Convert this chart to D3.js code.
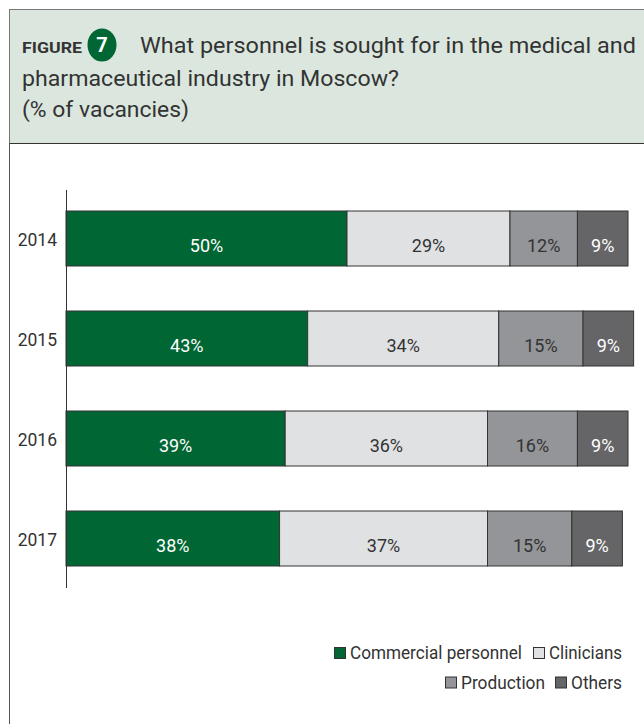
<!DOCTYPE html>
<html><head><meta charset="utf-8">
<script src="https://cdn.jsdelivr.net/npm/d3@7"></script>
<style>body{margin:0;background:#fff;font-family:Roboto,sans-serif;}</style>
</head><body>
<svg id="c" width="644" height="724"></svg>
<script>
const years = ["2014","2015","2016","2017"];
const seriesNames = ["Commercial personnel","Clinicians","Production","Others"];
const commercial = [50,43,39,38];
const clinicians = [29,34,36,37];
const production = [12,15,16,15];
const others = [9,9,9,9];
const seriesValues = [commercial, clinicians, production, others];
const colors = ["#006633","#e0e1e3","#939598","#656567"];
const labelColors = ["#ffffff","#333333","#333333","#ffffff"];

const svg = d3.select("#c");
const font = "Roboto, sans-serif";
const W = 400;

// frame
svg.append("rect").attr("x",9.5).attr("y",9.5).attr("width",640).attr("height",134).attr("fill","#dbe7de").attr("stroke","#777").attr("stroke-width",1);
svg.append("line").attr("x1",9.5).attr("x2",644).attr("y1",143.5).attr("y2",143.5).attr("stroke","#333").attr("stroke-width",1.2);
svg.append("line").attr("x1",9.5).attr("x2",9.5).attr("y1",143).attr("y2",724).attr("stroke","#555").attr("stroke-width",1);

function squeeze(sel, w){ sel.attr("textLength", w).attr("lengthAdjust","spacingAndGlyphs"); }

const fig = svg.append("text").attr("x",22).attr("y",53).attr("font-family",font).attr("font-weight","bold").attr("font-size",14.5).attr("fill","#333").text("FIGURE");
squeeze(fig, 60);
svg.append("ellipse").attr("cx",102).attr("cy",45).attr("rx",14.5).attr("ry",16.5).attr("fill","#006633");
svg.append("text").attr("x",102).attr("y",52).attr("text-anchor","middle").attr("font-family",font).attr("font-weight","bold").attr("font-size",20).attr("fill","#fff").text("7");
const t1 = svg.append("text").attr("x",140).attr("y",53).attr("font-family",font).attr("font-weight",W).attr("font-size",22.5).attr("fill","#333").text("What personnel is sought for in the medical and");
squeeze(t1, 496);
const t2 = svg.append("text").attr("x",22).attr("y",86).attr("font-family",font).attr("font-weight",W).attr("font-size",22.5).attr("fill","#333").text("pharmaceutical industry in Moscow?");
squeeze(t2, 377);
const t3 = svg.append("text").attr("x",22).attr("y",117).attr("font-family",font).attr("font-weight",W).attr("font-size",22.5).attr("fill","#333").text("(% of vacancies)");
squeeze(t3, 167);

// chart
const x = d3.scaleLinear().domain([0,100]).range([66,628]);
const y = d3.scaleBand().domain(years).range([188.5,588.5]).paddingInner(0.45).paddingOuter(0.225);

const rows = years.map((yr,i)=>{ let acc=0; return seriesValues.map((s,j)=>{ const v=s[i]; const d={year:yr,series:j,x0:acc,x1:acc+v,v}; acc+=v; return d;}); });
const g = svg.append("g");
rows.forEach(r=>{
  g.selectAll(null).data(r).enter().append("rect")
   .attr("x",d=>x(d.x0)).attr("y",d=>y(d.year)).attr("width",d=>x(d.x1)-x(d.x0)).attr("height",y.bandwidth())
   .attr("fill",d=>colors[d.series]).attr("stroke","#333").attr("stroke-width",1);
  g.selectAll(null).data(r).enter().append("text")
   .attr("x",d=>(x(d.x0)+x(d.x1))/2).attr("y",d=>y(d.year)+y.bandwidth()/2+13.5)
   .attr("text-anchor","middle").attr("font-family",font).attr("font-weight",W).attr("font-size",18).attr("fill",d=>labelColors[d.series])
   .text(d=>d.v+"%");
});

const yAxis = d3.axisLeft(y).tickSize(0).tickPadding(9);
const ag = svg.append("g").attr("transform","translate(66,0)").call(yAxis);
ag.select(".domain").attr("d","M0.5,190V588").attr("stroke","#333");
ag.selectAll("text").attr("font-family",font).attr("font-weight",W).attr("font-size",17.5).attr("fill","#333").attr("dy","0.45em");

// legend
const leg = [
  {i:0, sx:334, ty:659},
  {i:1, sx:533, ty:659},
  {i:2, sx:445, ty:688.5},
  {i:3, sx:555, ty:688.5}
];
const legW = [172, 73, 84, 51];
leg.forEach(l=>{
  svg.append("rect").attr("x",l.sx+0.5).attr("y",l.ty-11.5).attr("width",11).attr("height",11).attr("fill",colors[l.i]).attr("stroke","#333").attr("stroke-width",1);
  const t = svg.append("text").attr("x",l.sx+16).attr("y",l.ty).attr("font-family",font).attr("font-weight",W).attr("font-size",17.5).attr("fill","#333").text(seriesNames[l.i]);
  squeeze(t, legW[l.i]);
});
</script>
</body></html>
